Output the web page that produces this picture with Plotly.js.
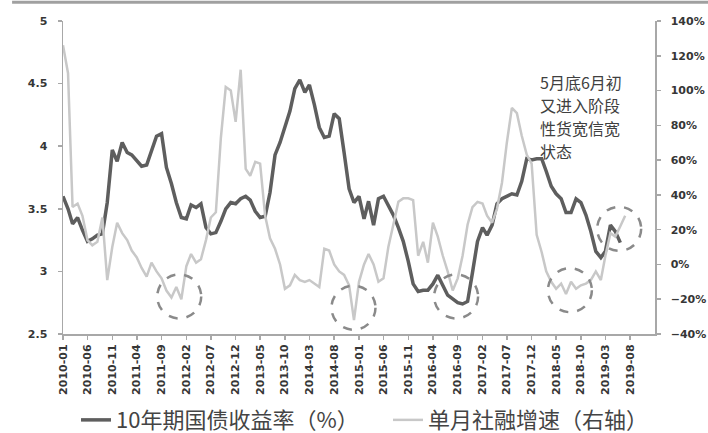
<!DOCTYPE html>
<html>
<head>
<meta charset="utf-8">
<script src="https://cdn.plot.ly/plotly-3.0.1.min.js"></script>
<style>html,body{margin:0;padding:0;background:#fff;}#chart{width:708px;height:433px;}</style>
</head>
<body>
<div id="chart"></div>
<script>
// Month categories 2010-01 ... 2019-12
const months = [];
for (let y = 2010; y <= 2019; y++) {
  for (let m = 1; m <= 12; m++) months.push(y + '-' + String(m).padStart(2, '0'));
}

// 10年期国债收益率（%）, left axis, 2010-01 .. 2019-06
const bondYield = [
  3.60,3.50,3.38,3.43,3.33,3.24,3.26,3.29,3.30,3.55,
  3.97,3.88,4.03,3.95,3.93,3.88,3.84,3.85,3.96,4.08,
  4.10,3.83,3.70,3.55,3.43,3.42,3.53,3.51,3.54,3.35,
  3.30,3.31,3.40,3.50,3.55,3.54,3.58,3.60,3.57,3.48,
  3.43,3.44,3.63,3.93,4.03,4.15,4.28,4.46,4.53,4.43,
  4.49,4.33,4.15,4.07,4.08,4.26,4.22,3.95,3.66,3.55,
  3.60,3.42,3.56,3.37,3.58,3.60,3.53,3.45,3.35,3.24,
  3.08,2.90,2.84,2.85,2.85,2.90,2.97,2.89,2.81,2.78,
  2.75,2.74,2.76,2.99,3.24,3.35,3.29,3.37,3.54,3.58,
  3.60,3.62,3.61,3.72,3.90,3.89,3.90,3.90,3.80,3.68,
  3.62,3.58,3.47,3.47,3.58,3.55,3.45,3.32,3.16,3.11,
  3.16,3.37,3.32,3.23
];

// 单月社融增速（右轴）, %, 2010-01 .. 2019-07
const sfGrowth = [
  126,110,33,35,28,14,11,13,27,-9,
  10,24,18,14,8,4,-2,-7,1,-4,
  -8,-15,-19,-13,-20,-1,6,1,3,14,
  27,30,73,102,100,82,112,55,51,59,
  58,28,15,9,0,-14,-12,-6,-9,-10,
  -9,-11,-13,9,8,0,-4,-6,-12,-32,
  -10,0,6,0,-10,-8,10,23,36,38,
  38,37,5,13,1,24,16,5,-4,-15,
  -8,5,23,33,36,35,28,24,32,47,
  70,90,87,74,63,58,17,7,-4,-10,
  -14,-11,-17,-10,-14,-12,-11,-9,-4,-9,
  5,18,16,22,28
];

const tickLabels = ['2010-01','2010-06','2010-11','2011-04','2011-09','2012-02','2012-07','2012-12',
  '2013-05','2013-10','2014-03','2014-08','2015-01','2015-06','2015-11','2016-04','2016-09',
  '2017-02','2017-07','2017-12','2018-05','2018-10','2019-03','2019-08'];

const seriesNames = ['10年期国债收益率（%）', '单月社融增速（右轴）'];
const noteLines = ['5月底6月初', '又进入阶段', '性货宽信宽', '状态'];

// dashed circle highlights: [date anchor, left-axis value]
const circles = [
  ['2011-12-19', 2.80],
  ['2014-11-28', 2.71],
  ['2016-08-22', 2.80],
  ['2018-07-25', 2.85],
  ['2019-05-25', 3.34]
];

const tickFont = {family: 'DejaVu Sans', size: 11, color: '#363636', weight: 'bold'};
const axisLine = '#a8a8a8';
const legendFont = {family: 'Noto Sans CJK SC', size: 22, color: '#444'};

const traces = [
  {
    x: months.slice(0, bondYield.length), y: bondYield, name: seriesNames[0],
    type: 'scatter', mode: 'lines', yaxis: 'y', legend: 'legend',
    line: {color: '#5e5e5e', width: 3.5}
  },
  {
    x: months.slice(0, sfGrowth.length), y: sfGrowth, name: seriesNames[1],
    type: 'scatter', mode: 'lines', yaxis: 'y2', legend: 'legend2',
    line: {color: '#c8c8c8', width: 2.5}
  }
];

const shapes = circles.map(c => ({
  type: 'circle', xref: 'x', yref: 'y',
  xsizemode: 'pixel', ysizemode: 'pixel',
  xanchor: c[0], yanchor: c[1],
  x0: -22, x1: 22, y0: -22, y1: 22,
  line: {color: '#8a8a8a', width: 2.5, dash: 'dash'}
}));
shapes.push({
  type: 'line', xref: 'paper', yref: 'paper',
  x0: -0.086, x1: 1.09, y0: 1.06, y1: 1.06,
  line: {color: '#a0a0a0', width: 3}
});

// note lines, stacked (first line centre ~y=82px, step ~23px)
const annotations = noteLines.map((t, i) => ({
  text: t, x: '2018-01-11', y: 4.515 - i * 0.1837, xref: 'x', yref: 'y',
  xanchor: 'left', yanchor: 'middle', align: 'left', showarrow: false,
  font: {family: 'Noto Sans CJK SC', size: 16, color: '#404040'}
}));

const layout = {
  width: 708, height: 433,
  margin: {l: 63, r: 53, t: 21, b: 99, autoexpand: false},
  paper_bgcolor: '#fff', plot_bgcolor: '#fff',
  showlegend: true,
  xaxis: {
    type: 'date', range: ['2010-01-01', '2020-01-01'],
    tickvals: tickLabels, ticktext: tickLabels, tickangle: -90,
    ticks: 'outside', ticklen: 4, tickcolor: axisLine, tickwidth: 1.5,
    showline: true, linecolor: axisLine, linewidth: 2,
    showgrid: false, zeroline: false, tickfont: tickFont, automargin: false
  },
  yaxis: {
    range: [2.5, 5], tick0: 2.5, dtick: 0.5,
    ticks: 'outside', ticklen: 4, tickcolor: axisLine, tickwidth: 1.5,
    showline: true, linecolor: axisLine, linewidth: 1.5,
    showgrid: false, zeroline: false, tickfont: tickFont,
    ticklabelstandoff: 8, automargin: false
  },
  yaxis2: {
    overlaying: 'y', side: 'right',
    range: [-40, 140], tick0: -40, dtick: 20, ticksuffix: '%',
    ticks: 'outside', ticklen: 4, tickcolor: axisLine, tickwidth: 1.5,
    showline: true, linecolor: axisLine, linewidth: 1.5,
    showgrid: false, zeroline: false, tickfont: tickFont,
    ticklabelstandoff: 8, automargin: false
  },
  legend: {
    orientation: 'h', x: 0.022, xanchor: 'left', y: -0.275, yanchor: 'middle',
    font: legendFont, bgcolor: 'rgba(0,0,0,0)'
  },
  legend2: {
    orientation: 'h', x: 0.549, xanchor: 'left', y: -0.275, yanchor: 'middle',
    font: legendFont, bgcolor: 'rgba(0,0,0,0)'
  },
  shapes: shapes,
  annotations: annotations
};

Plotly.newPlot('chart', traces, layout, {displayModeBar: false, staticPlot: true});
</script>
</body>
</html>
